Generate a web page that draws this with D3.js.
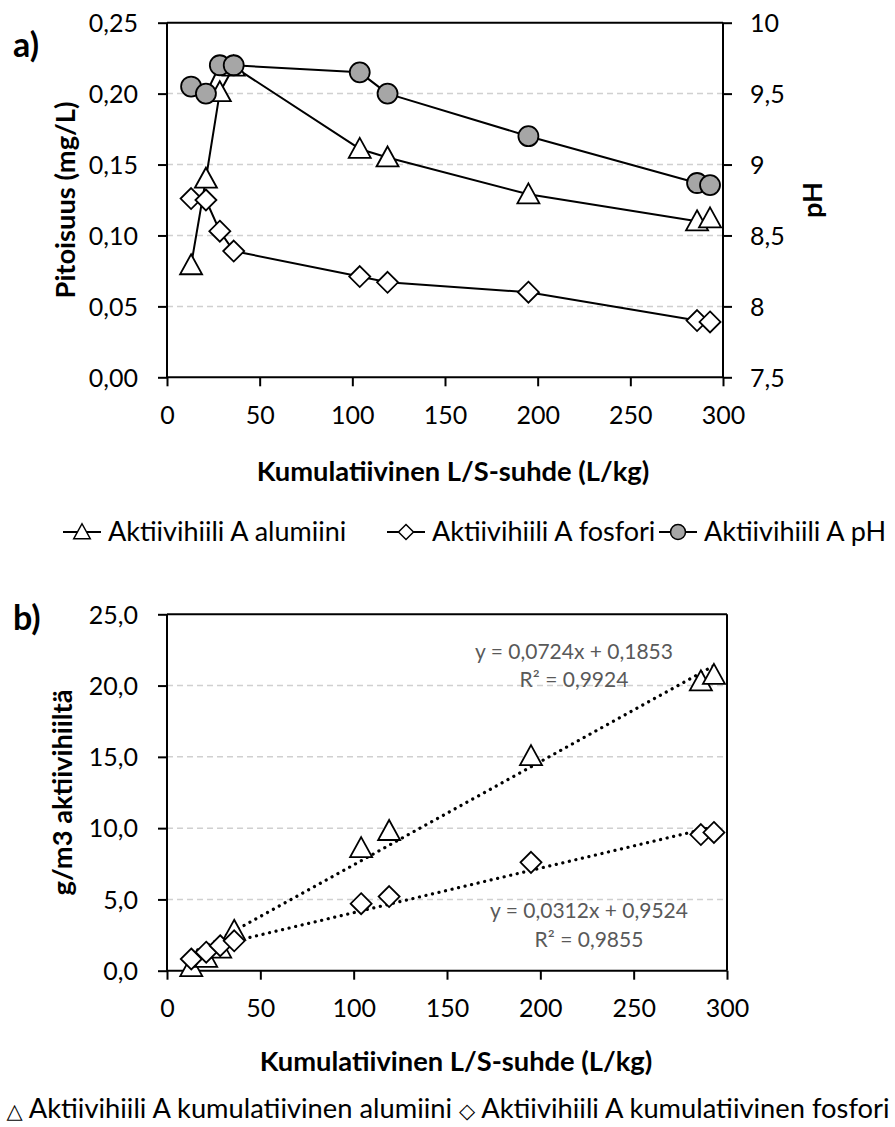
<!DOCTYPE html>
<html><head><meta charset="utf-8">
<script src="https://cdn.jsdelivr.net/npm/d3@7"></script>
<style>
html,body{margin:0;padding:0;background:#fff;}
svg text{font-family:Lato,"Open Sans",sans-serif;}
</style></head>
<body>
<svg id="c" width="895" height="1127"></svg>
<script>
// ---- data ----
const lsRatio = [13, 21, 28.5, 36, 104, 119, 195, 286, 293];
const alumiini = [0.079, 0.140, 0.201, 0.219, 0.161, 0.155, 0.129, 0.110, 0.112];
const fosfori = [0.126, 0.125, 0.103, 0.089, 0.071, 0.067, 0.060, 0.040, 0.039];
const pHvalues = [9.55, 9.50, 9.70, 9.70, 9.65, 9.50, 9.20, 8.87, 8.855];
const kumAlumiini = [0.25, 0.9, 1.55, 2.8, 8.6, 9.8, 15.05, 20.3, 20.75];
const kumFosfori = [0.82, 1.3, 1.75, 2.1, 4.7, 5.2, 7.6, 9.55, 9.7];
const xTicks = [0, 50, 100, 150, 200, 250, 300];
const yLeftTicks = [0, 0.05, 0.10, 0.15, 0.20, 0.25];
const yRightTicks = [7.5, 8, 8.5, 9, 9.5, 10];
const yBottomTicks = [0, 5, 10, 15, 20, 25];
const trendAl = {slope: 0.0724, intercept: 0.1853, r2: "0,9924"};
const trendP = {slope: 0.0312, intercept: 0.9524, r2: "0,9855"};
const legendTop = ["Aktiivihiili A alumiini", "Aktiivihiili A fosfori", "Aktiivihiili A pH"];
const legendBottom = ["Aktiivihiili A kumulatiivinen alumiini", "Aktiivihiili A kumulatiivinen fosfori"];

const svg = d3.select("#c");
const comma = s => s.replace(".", ",");
const L = 167, RA = 723, RB = 727;
const TICK_FS = 25, TITLE_FS = 27.3;
const xA = d3.scaleLinear().domain([0, 300]).range([L, RA]);
const xB = d3.scaleLinear().domain([0, 300]).range([L, RB]);

const triPath = s => `M0,${-s*0.55}L${s*0.55},${s*0.45}L${-s*0.55},${s*0.45}Z`;
const diaPath = s => `M0,${-s/2}L${s/2},0L0,${s/2}L${-s/2},0Z`;

function frame(g, x, R, yScale, top, bottom, leftTicks, fmt, gridTicks) {
  g.append("g").selectAll("line").data(gridTicks).join("line")
    .attr("x1", L).attr("x2", R)
    .attr("y1", d => yScale(d)).attr("y2", d => yScale(d))
    .attr("stroke", "#d0d0d0").attr("stroke-width", 1.5).attr("stroke-dasharray", "6,4");
  g.append("line").attr("x1", L).attr("x2", R).attr("y1", top).attr("y2", top)
    .attr("stroke", "#000").attr("stroke-width", 2);
  const ax = g.append("g").attr("transform", `translate(${L},0)`)
    .call(d3.axisLeft(yScale).tickValues(leftTicks).tickSize(9).tickFormat(fmt));
  ax.select(".domain").attr("stroke-width", 2).attr("d", `M0,${top}V${bottom}`);
  ax.selectAll(".tick line").attr("stroke-width", 2);
  ax.selectAll("text").attr("font-size", TICK_FS).attr("x", -29).attr("dy", "0.35em")
    .attr("font-family", "Lato").attr("fill", "#000");
  const bx = g.append("g").attr("transform", `translate(0,${bottom})`)
    .call(d3.axisBottom(x).tickValues(xTicks).tickSize(9).tickFormat(d => d));
  bx.select(".domain").attr("stroke-width", 2).attr("d", `M${L},0H${R}`);
  bx.selectAll(".tick line").attr("stroke-width", 2);
  bx.selectAll("text").attr("font-size", TICK_FS).attr("y", 29).attr("dy", "0.71em")
    .attr("font-family", "Lato").attr("fill", "#000");
}

function boldText(g, tx, ty, rot, s) {
  return g.append("text").attr("transform", `translate(${tx},${ty})` + (rot ? ` rotate(${rot})` : ""))
    .attr("text-anchor", "middle").attr("dy", "0.35em").attr("font-size", TITLE_FS)
    .attr("font-weight", "bold").attr("font-family", "Lato").text(s);
}

// ================= Chart a =================
const topA = 22.7, botA = 377.3;
const yA = d3.scaleLinear().domain([0, 0.25]).range([botA, topA]);
const yPH = d3.scaleLinear().domain([7.5, 10]).range([botA, topA]);
const gA = svg.append("g");
frame(gA, xA, RA, yA, topA, botA, yLeftTicks, d => comma(d3.format(".2f")(d)), [0.05, 0.10, 0.15, 0.20]);
const rx = gA.append("g").attr("transform", `translate(${RA},0)`)
  .call(d3.axisRight(yPH).tickValues(yRightTicks).tickSize(9).tickFormat(d => comma(String(d))));
rx.select(".domain").attr("stroke-width", 2).attr("d", `M0,${topA}V${botA}`);
rx.selectAll(".tick line").attr("stroke-width", 2);
rx.selectAll("text").attr("font-size", TICK_FS).attr("x", 27).attr("dy", "0.35em")
  .attr("font-family", "Lato").attr("fill", "#000");

function seriesLine(g, xs, ys, yScale) {
  const line = d3.line().x((d, i) => xA(xs[i])).y(d => yScale(d));
  g.append("path").datum(ys).attr("d", line).attr("fill", "none")
    .attr("stroke", "#000").attr("stroke-width", 2).attr("stroke-linejoin", "round");
}
seriesLine(gA, lsRatio, alumiini, yA);
gA.append("g").selectAll("path").data(alumiini).join("path")
  .attr("d", triPath(20)).attr("transform", (d, i) => `translate(${xA(lsRatio[i])},${yA(d)})`)
  .attr("fill", "#fff").attr("stroke", "#000").attr("stroke-width", 1.8);
seriesLine(gA, lsRatio, fosfori, yA);
gA.append("g").selectAll("path").data(fosfori).join("path")
  .attr("d", diaPath(21)).attr("transform", (d, i) => `translate(${xA(lsRatio[i])},${yA(d)})`)
  .attr("fill", "#fff").attr("stroke", "#000").attr("stroke-width", 1.8);
seriesLine(gA, lsRatio, pHvalues, yPH);
gA.append("g").selectAll("circle").data(pHvalues).join("circle")
  .attr("cx", (d, i) => xA(lsRatio[i])).attr("cy", d => yPH(d)).attr("r", 10)
  .attr("fill", "#a6a6a6").attr("stroke", "#000").attr("stroke-width", 1.8);

gA.append("text").attr("x", 13).attr("y", 57).attr("font-size", 34).attr("font-weight", "bold")
  .attr("font-family", "Lato").text("a)");
boldText(gA, 65, (topA + botA) / 2, -90, "Pitoisuus (mg/L)");
boldText(gA, 812, 200, -90, "pH");
boldText(gA, 453, 471, 0, "Kumulatiivinen L/S-suhde (L/kg)");

// legend a
const legA = gA.append("g");
const legX = [63, 387, 659];
const legT = [108, 432, 704];
legendTop.forEach((t, i) => {
  const g = legA.append("g").attr("transform", `translate(${legX[i]},532)`);
  g.append("line").attr("x1", 0).attr("x2", 38).attr("stroke", "#000").attr("stroke-width", 2);
  if (i === 0) g.append("path").attr("d", triPath(15)).attr("transform", "translate(19,0)")
    .attr("fill", "#fff").attr("stroke", "#000").attr("stroke-width", 1.5);
  if (i === 1) g.append("path").attr("d", diaPath(15)).attr("transform", "translate(19,0)")
    .attr("fill", "#fff").attr("stroke", "#000").attr("stroke-width", 1.5);
  if (i === 2) g.append("circle").attr("cx", 19).attr("r", 7.5)
    .attr("fill", "#a6a6a6").attr("stroke", "#000").attr("stroke-width", 1.5);
  legA.append("text").attr("x", legT[i]).attr("y", 532).attr("dy", "0.35em").attr("font-size", 27)
    .attr("font-family", "Lato").text(t);
});

// ================= Chart b =================
const topB = 614.3, botB = 970.7;
const yB = d3.scaleLinear().domain([0, 25]).range([botB, topB]);
const gB = svg.append("g");
frame(gB, xB, RB, yB, topB, botB, yBottomTicks, d => comma(d3.format(".1f")(d)), [5, 10, 15, 20]);
gB.append("line").attr("x1", RB).attr("x2", RB).attr("y1", topB).attr("y2", botB)
  .attr("stroke", "#000").attr("stroke-width", 2);

function trend(t) {
  const x0 = d3.min(lsRatio), x1 = d3.max(lsRatio);
  gB.append("line").attr("x1", xB(x0)).attr("x2", xB(x1))
    .attr("y1", yB(t.slope * x0 + t.intercept)).attr("y2", yB(t.slope * x1 + t.intercept))
    .attr("stroke", "#000").attr("stroke-width", 3.2).attr("stroke-linecap", "round")
    .attr("stroke-dasharray", "0.1,6.6");
}
trend(trendAl);
trend(trendP);

gB.append("g").selectAll("path").data(kumAlumiini).join("path")
  .attr("d", triPath(20)).attr("transform", (d, i) => `translate(${xB(lsRatio[i])},${yB(d)})`)
  .attr("fill", "#fff").attr("stroke", "#000").attr("stroke-width", 1.8);
gB.append("g").selectAll("path").data(kumFosfori).join("path")
  .attr("d", diaPath(21)).attr("transform", (d, i) => `translate(${xB(lsRatio[i])},${yB(d)})`)
  .attr("fill", "#fff").attr("stroke", "#000").attr("stroke-width", 1.8);

const fmtEq = t => `y = ${comma(String(t.slope))}x + ${comma(String(t.intercept))}`;
function trendLabel(t, cx, y1, y2) {
  gB.append("text").attr("x", cx).attr("y", y1).attr("text-anchor", "middle").attr("dy", "0.35em")
    .attr("font-size", 21).attr("fill", "#595959").attr("font-family", "Lato").text(fmtEq(t));
  gB.append("text").attr("x", cx).attr("y", y2).attr("text-anchor", "middle").attr("dy", "0.35em")
    .attr("font-size", 21).attr("fill", "#595959").attr("font-family", "Lato").text("R² = " + t.r2);
}
trendLabel(trendAl, 574, 652, 680);
trendLabel(trendP, 589, 911, 940);

gB.append("text").attr("x", 13).attr("y", 630).attr("font-size", 34).attr("font-weight", "bold")
  .attr("font-family", "Lato").text("b)");
boldText(gB, 62, (topB + botB) / 2, -90, "g/m3 aktiivihiiltä");
boldText(gB, 456, 1061, 0, "Kumulatiivinen L/S-suhde (L/kg)");

const lb = gB.append("text").attr("x", 448).attr("y", 1108).attr("text-anchor", "middle")
  .attr("dy", "0.35em").attr("font-size", 27.3).attr("font-family", "Lato");
lb.append("tspan").attr("font-family", "DejaVu Sans").attr("font-size", 21).text("△");
lb.append("tspan").text(" " + legendBottom[0] + " ");
lb.append("tspan").attr("font-family", "DejaVu Sans").attr("font-size", 21).text("◇");
lb.append("tspan").text(" " + legendBottom[1]);
</script>
</body></html>
